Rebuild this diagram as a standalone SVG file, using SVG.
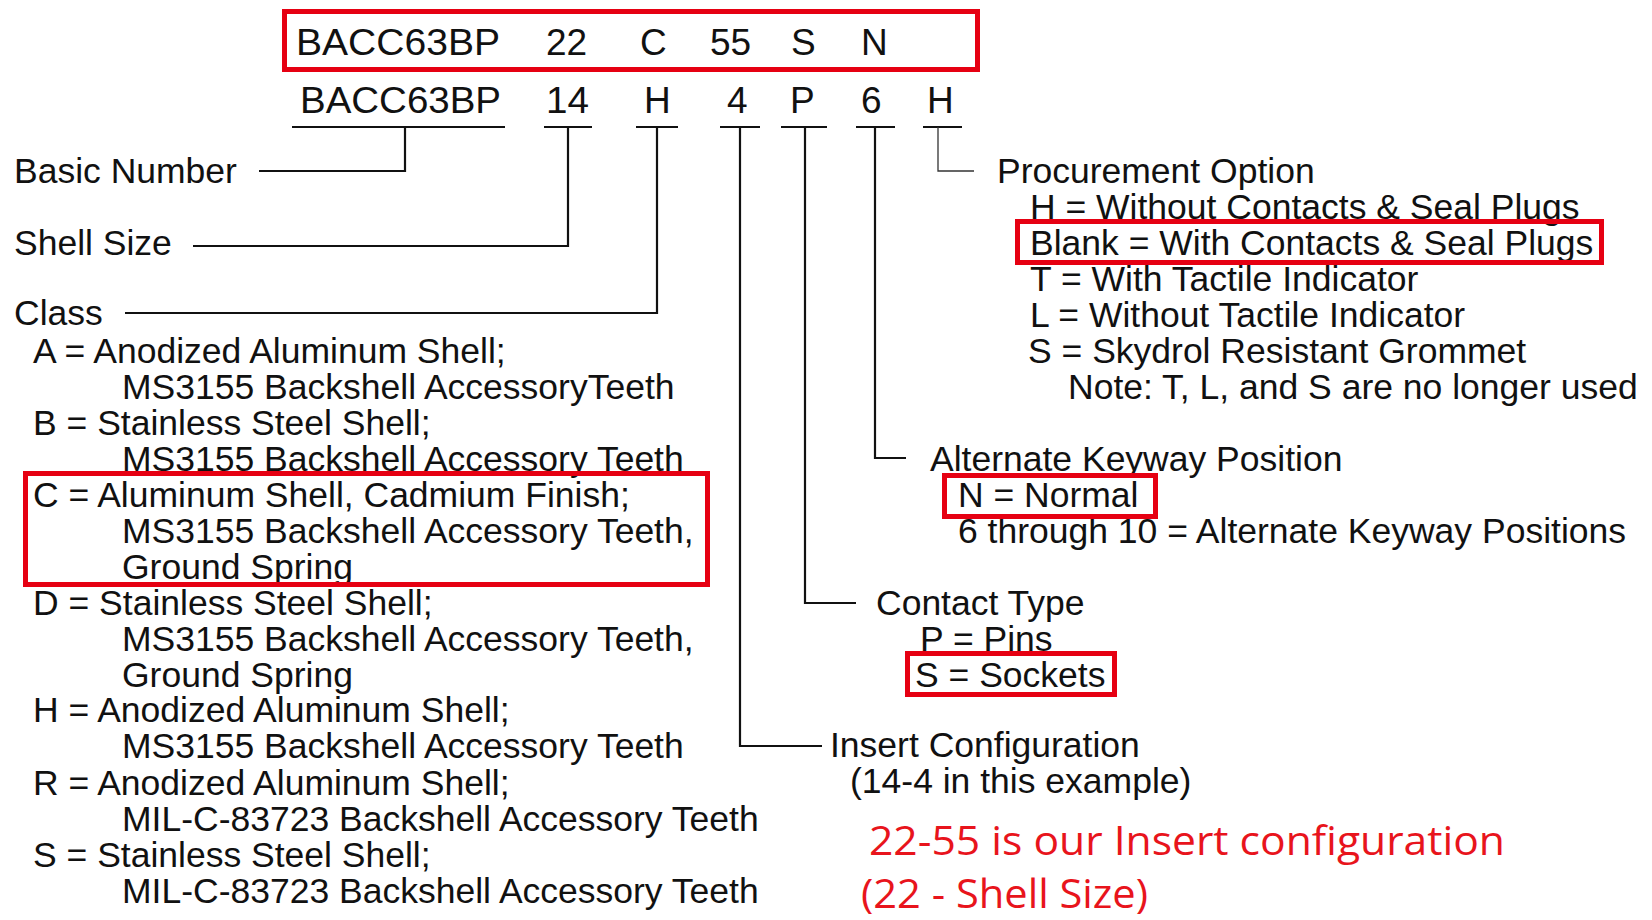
<svg xmlns="http://www.w3.org/2000/svg" width="1652" height="920" viewBox="0 0 1652 920">
<style>
.t{font-family:"Liberation Sans",Arial,sans-serif;font-size:35.5px;fill:#111}
.pn{font-family:"Liberation Sans",Arial,sans-serif;font-size:37px;fill:#111}
.red{font-family:"Open Sans","Noto Sans",sans-serif;font-size:40px;fill:#e8141c}
.box{fill:none;stroke:#e60012;stroke-width:5}
.ln{fill:none;stroke:#111;stroke-width:2.2}
.thin{fill:none;stroke:#333;stroke-width:1.3}
</style>
<rect width="1652" height="920" fill="#fff"/>

<g id="top-part-number">
<text class="pn" x="296" y="55" textLength="204" lengthAdjust="spacingAndGlyphs">BACC63BP</text>
<text class="pn" x="546" y="55">22</text>
<text class="pn" x="640" y="55">C</text>
<text class="pn" x="710" y="55">55</text>
<text class="pn" x="791" y="55">S</text>
<text class="pn" x="861" y="55">N</text>
<rect class="box" x="284.5" y="11.5" width="693" height="58"/>
</g>

<g id="example-part-number">
<text class="pn" x="300" y="113" textLength="201" lengthAdjust="spacingAndGlyphs">BACC63BP</text>
<text class="pn" x="546" y="113" textLength="43" lengthAdjust="spacingAndGlyphs">14</text>
<text class="pn" x="644" y="113">H</text>
<text class="pn" x="727" y="113">4</text>
<text class="pn" x="790" y="113">P</text>
<text class="pn" x="861" y="113">6</text>
<text class="pn" x="927" y="113">H</text>
</g>

<g id="connectors">
<path class="ln" d="M292 127H505M405 127V171H259"/>
<path class="ln" d="M544 127H592M568 127V246H193"/>
<path class="ln" d="M636 127H678M657 127V313H125"/>
<path class="ln" d="M720 127H760M740 127V746H822"/>
<path class="ln" d="M781 127H827M805 127V603H856"/>
<path class="ln" d="M856 127H895M875 127V458H906"/>
<path class="ln" d="M923 127H962"/>
<path class="thin" d="M938 127V171H974"/>
</g>

<g id="basic-number">
<text class="t" x="14" y="183">Basic Number</text>
</g>

<g id="shell-size">
<text class="t" x="14" y="255">Shell Size</text>
</g>

<g id="class">
<text class="t" x="14" y="325">Class</text>
<text class="t" x="33" y="363">A = Anodized Aluminum Shell;</text>
<text class="t" x="122" y="399">MS3155 Backshell AccessoryTeeth</text>
<text class="t" x="33" y="435">B = Stainless Steel Shell;</text>
<text class="t" x="122" y="471">MS3155 Backshell Accessory Teeth</text>
<text class="t" x="33" y="507">C = Aluminum Shell, Cadmium Finish;</text>
<text class="t" x="122" y="543">MS3155 Backshell Accessory Teeth,</text>
<text class="t" x="122" y="579">Ground Spring</text>
<text class="t" x="33" y="615">D = Stainless Steel Shell;</text>
<text class="t" x="122" y="651">MS3155 Backshell Accessory Teeth,</text>
<text class="t" x="122" y="687">Ground Spring</text>
<text class="t" x="33" y="722">H = Anodized Aluminum Shell;</text>
<text class="t" x="122" y="758">MS3155 Backshell Accessory Teeth</text>
<text class="t" x="33" y="795">R = Anodized Aluminum Shell;</text>
<text class="t" x="122" y="831">MIL-C-83723 Backshell Accessory Teeth</text>
<text class="t" x="33" y="867">S = Stainless Steel Shell;</text>
<text class="t" x="122" y="903">MIL-C-83723 Backshell Accessory Teeth</text>
<rect class="box" x="25.5" y="473.5" width="682" height="111"/>
</g>

<g id="procurement-option">
<text class="t" x="997" y="183">Procurement Option</text>
<text class="t" x="1030" y="219">H = Without Contacts &amp; Seal Plugs</text>
<text class="t" x="1030" y="255">Blank = With Contacts &amp; Seal Plugs</text>
<text class="t" x="1030" y="291">T = With Tactile Indicator</text>
<text class="t" x="1030" y="327">L = Without Tactile Indicator</text>
<text class="t" x="1028" y="363">S = Skydrol Resistant Grommet</text>
<text class="t" x="1068" y="399">Note: T, L, and S are no longer used</text>
<rect class="box" x="1017.5" y="221.5" width="584" height="41"/>
</g>

<g id="keyway-position">
<text class="t" x="930" y="471">Alternate Keyway Position</text>
<text class="t" x="958" y="507">N = Normal</text>
<text class="t" x="958" y="543">6 through 10 = Alternate Keyway Positions</text>
<rect class="box" x="944.5" y="475.5" width="211" height="41"/>
</g>

<g id="contact-type">
<text class="t" x="876" y="615">Contact Type</text>
<text class="t" x="920" y="651">P = Pins</text>
<text class="t" x="915" y="687">S = Sockets</text>
<rect class="box" x="907.5" y="653.5" width="207" height="41"/>
</g>

<g id="insert-configuration">
<text class="t" x="830" y="757">Insert Configuration</text>
<text class="t" x="850" y="793">(14-4 in this example)</text>
</g>

<g id="note">
<text class="red" x="869" y="855" textLength="636" lengthAdjust="spacingAndGlyphs">22-55 is our Insert configuration</text>
<text class="red" x="861" y="908" textLength="287" lengthAdjust="spacingAndGlyphs">(22 - Shell Size)</text>
</g>
</svg>
